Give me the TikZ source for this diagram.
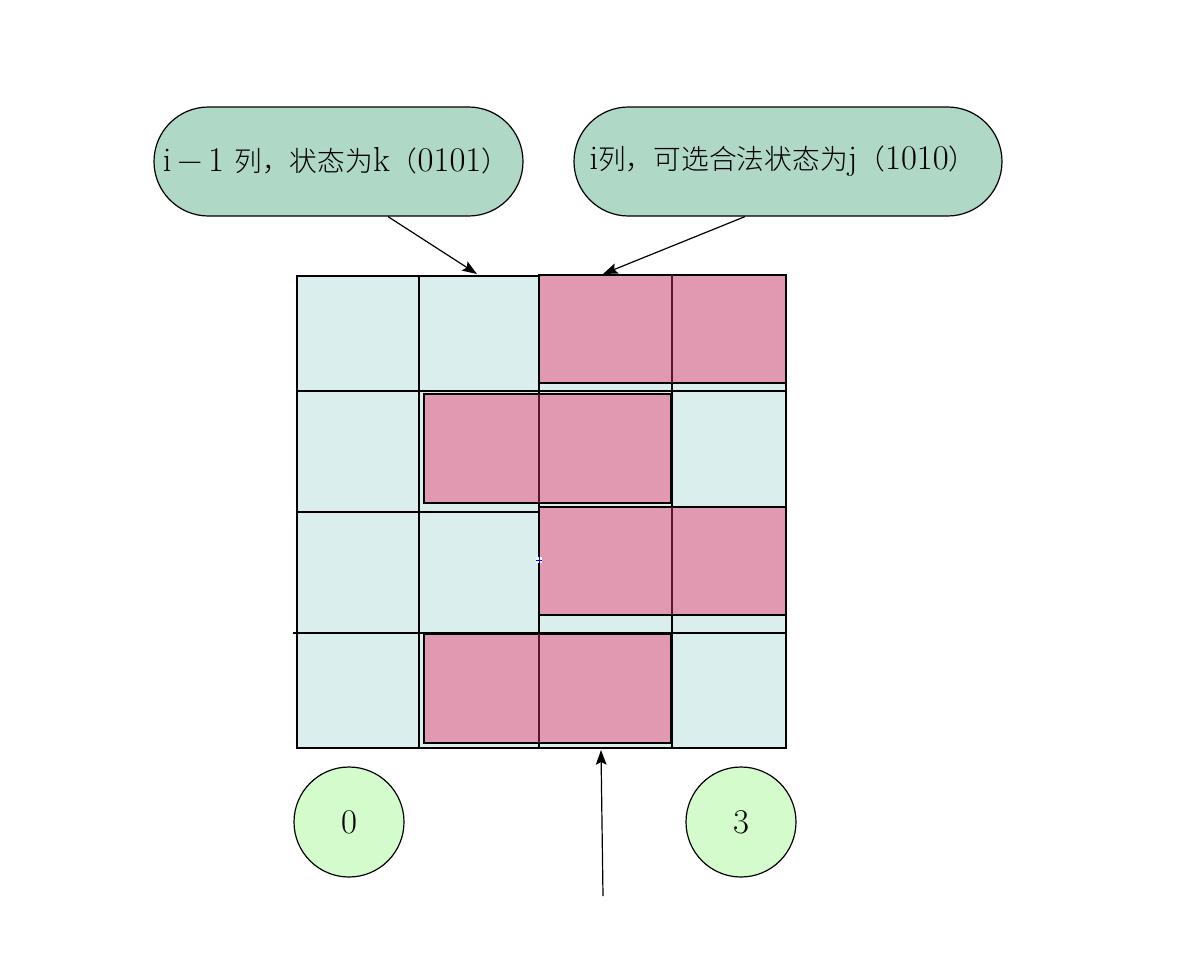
\documentclass[tikz,border=0pt]{standalone}
\usepackage{fontspec}
\setmainfont{Latin Modern Roman}
\newfontfamily\cjk[Scale=0.8]{Noto Sans CJK SC Light}
\usetikzlibrary{arrows.meta,shapes.misc,calc}
\definecolor{callfill}{HTML}{AFD8C6}
\definecolor{cellfill}{HTML}{DAEEED}
\definecolor{pinkfill}{HTML}{E198B1}
\definecolor{circfill}{HTML}{D3FBCB}
\definecolor{innerline}{HTML}{5A1530}
\begin{document}
\begin{tikzpicture}[x=0.75pt,y=-0.75pt,line width=0.9pt,
  cellbox/.style={draw=black,fill=cellfill,line width=0.9pt},
  pinkbox/.style={draw=black,fill=pinkfill,line width=1pt},
  innerl/.style={draw=innerline,line width=0.9pt},
  callout/.style={rounded rectangle,draw=black,fill=callfill,minimum height=81.75pt,inner sep=0pt},
  calltext/.style={inner sep=0pt,font=\fontsize{26}{30}\selectfont},
  numcirc/.style={circle,draw=black,fill=circfill,minimum size=82.5pt,inner sep=0pt,font=\fontsize{26}{30}\selectfont},
  arr/.style={-{Stealth[length=11pt,width=8pt,inset=2pt]},line width=0.9pt}]
\useasboundingbox (0,0) rectangle (1179,965);
% grid cells
\foreach \xa/\xb in {297/419,419/539,539/672,672/786}
  \foreach \ya/\yb in {276/391,391/512,512/633,633/748}
    \draw[cellbox] (\xa,\ya) rectangle (\xb,\yb);
\draw (293,633) -- (786,633);
% pink dominoes
\draw[pinkbox] (539,275) rectangle (786,383);
\draw[innerl] (672,275) -- (672,383);
\draw[pinkbox] (424,394) rectangle (671,503);
\draw[innerl] (539,394) -- (539,503);
\draw[pinkbox] (539,507) rectangle (786,615);
\draw[innerl] (672,507) -- (672,615);
\draw[pinkbox] (424,634) rectangle (671,743);
\draw[innerl] (539,634) -- (539,743);
% small marker
\fill[white] (536,557) rectangle (542,563);
\draw[blue,line width=0.4pt] (536,560) -- (542,560) (539,557) -- (539,563);
% callouts
\node[callout,minimum width=276.75pt] (c1) at (338.5,161.5) {};
\node[calltext] (c1t) at (336,161) {i\,−\,1 {\cjk 列，状态为}k{\cjk （}0101{\cjk ）}};
\node[callout,minimum width=321pt] (c2) at (788,161.5) {};
\node[calltext] (c2t) at (783,161) {i{\cjk 列，可选合法状态为}j{\cjk （}1010{\cjk ）}};
% circles
\node[numcirc] (n0) at (349,822) {0};
\node[numcirc] (n3) at (741,822) {3};
% arrows
\coordinate (t1) at (477,274);
\coordinate (t2) at (603,274);
\coordinate (t3) at (601,750);
\coordinate (s3) at (603,896);
\draw[arr] ($(c1.south)+(49.5,0)$) -- (t1);
\draw[arr] ($(c2.south)+(-43,0)$) -- (t2);
\draw[arr] (s3) -- (t3);
\end{tikzpicture}
\end{document}
